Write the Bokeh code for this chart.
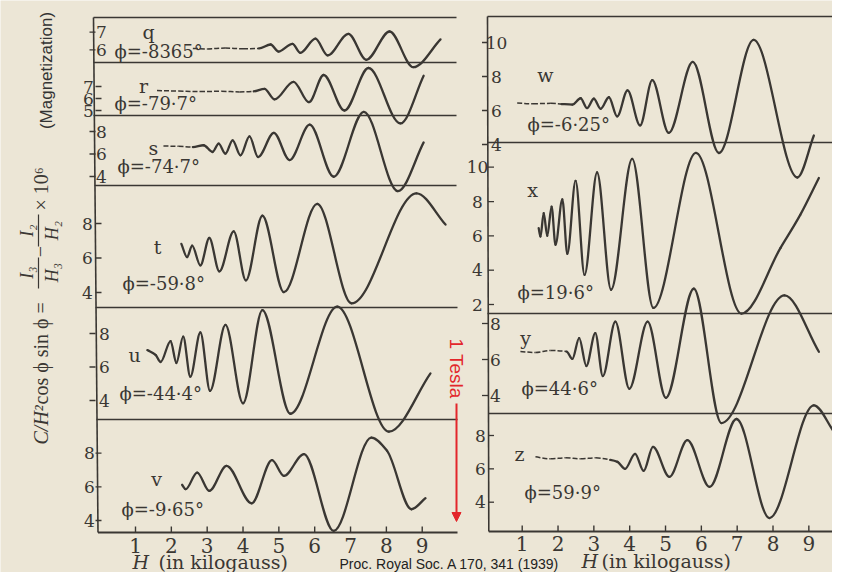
import math
from bokeh.plotting import figure
from bokeh.models import Range1d, Label, Arrow, NormalHead, ColumnDataSource
from bokeh.embed import file_html
from bokeh.resources import INLINE
from bokeh.core.properties import value

# ------------------------------------------------------------------
# DATA (read off the 1939 Proc. Roy. Soc. figure)
# ------------------------------------------------------------------
H_TICKS = [1, 2, 3, 4, 5, 6, 7, 8, 9]
H_TICK_LABELS = ["1", "2", "3", "4", "5", "6", "7", "8", "9"]

Q_H = [2.6, 3.0, 3.5, 4.0, 4.45, 4.77, 4.99, 5.38, 5.60, 6.02, 6.36, 6.94, 7.44, 8.09, 8.75, 9.51]
Q_V = [6.08, 6.05, 6.10, 6.06, 6.08, 6.30, 5.90, 6.34, 5.83, 6.63, 5.68, 6.91, 5.43, 7.04, 5.01, 6.59]

R_H = [1.6, 2.2, 2.8, 3.4, 3.9, 4.3, 4.60, 4.88, 5.41, 5.84, 6.25, 6.83, 7.50, 8.39, 9.04]
R_V = [6.66, 6.62, 6.58, 6.60, 6.55, 6.60, 6.81, 5.93, 7.39, 5.69, 7.96, 5.00, 8.54, 3.92, 7.89]

S_H = [1.78, 2.2, 2.6, 2.90, 3.15, 3.32, 3.51, 3.71, 3.93, 4.18, 4.42, 4.86, 5.30, 5.86, 6.53, 7.37, 8.32, 9.04]
S_V = [6.71, 6.68, 6.62, 6.78, 6.18, 6.92, 6.03, 7.22, 5.88, 7.56, 5.73, 7.88, 5.46, 8.61, 3.98, 9.75, 2.70, 7.03]

T_H = [2.28, 2.44, 2.58, 2.81, 3.06, 3.34, 3.74, 4.08, 4.54, 5.14, 6.07, 7.03, 8.84, 9.65]
T_V = [6.82, 6.05, 6.72, 5.57, 7.16, 5.22, 7.54, 4.70, 8.45, 4.02, 9.14, 3.37, 9.75, 7.94]

U_H = [1.33, 1.56, 1.70, 1.98, 2.14, 2.33, 2.53, 2.81, 3.08, 3.51, 4.00, 4.54, 5.32, 6.63, 8.07, 9.23]
U_V = [7.01, 6.72, 6.30, 7.55, 6.24, 7.81, 5.42, 8.06, 4.57, 8.51, 3.83, 9.40, 3.21, 9.60, 2.14, 5.62]

V_H = [2.30, 2.40, 2.72, 3.06, 3.54, 4.24, 4.81, 5.14, 5.70, 6.53, 7.58, 8.02, 8.70, 9.09]
V_V = [6.12, 5.86, 6.85, 5.76, 7.25, 5.02, 7.59, 6.65, 7.95, 3.38, 8.93, 8.14, 4.67, 5.33]

W_H = [0.86, 1.3, 1.8, 2.1, 2.40, 2.63, 2.81, 3.00, 3.19, 3.42, 3.65, 3.94, 4.29, 4.63, 5.09, 5.76, 6.49, 7.46, 8.68, 9.14]
W_V = [6.44, 6.40, 6.42, 6.38, 6.35, 6.72, 6.14, 6.69, 6.10, 6.78, 5.65, 7.18, 5.12, 7.79, 4.68, 8.86, 3.50, 10.15, 2.06, 4.53]

X_H = [1.46, 1.51, 1.60, 1.70, 1.82, 1.93, 2.12, 2.26, 2.49, 2.74, 3.09, 3.48, 4.07, 4.66, 5.85, 7.12, 8.21, 8.76, 9.28]
X_V = [6.45, 5.96, 7.32, 6.00, 7.70, 5.48, 8.13, 4.95, 9.20, 3.73, 9.69, 2.86, 10.48, 1.80, 10.84, 1.47, 5.30, 7.22, 9.37]

Y_H = [0.95, 1.37, 1.79, 2.24, 2.40, 2.59, 2.79, 3.04, 3.25, 3.60, 3.99, 4.50, 5.01, 5.79, 6.56, 8.32, 9.28]
Y_V = [6.44, 6.39, 6.50, 6.44, 6.03, 7.19, 5.64, 7.47, 5.08, 8.10, 4.37, 8.10, 3.87, 9.93, 2.47, 9.56, 6.43]

Z_H = [1.37, 1.79, 2.21, 2.63, 3.05, 3.46, 3.66, 3.87, 4.15, 4.39, 4.65, 5.11, 5.61, 6.23, 6.98, 7.90, 9.14, 9.70]
Z_V = [6.72, 6.60, 6.66, 6.60, 6.66, 6.54, 6.42, 6.00, 6.90, 5.88, 7.32, 5.52, 7.72, 4.92, 8.99, 3.05, 9.81, 8.22]

Q_TICKS = [6, 7]
R_TICKS = [5, 6, 7]
S_TICKS = [4, 6, 8]
T_TICKS = [4, 6, 8]
U_TICKS = [4, 6, 8]
V_TICKS = [4, 6, 8]
W_TICKS = [4, 6, 8, 10]
X_TICKS = [2, 4, 6, 8, 10]
Y_TICKS = [4, 6, 8]
Z_TICKS = [4, 6, 8]

PANEL_NAMES = ["q", "r", "s", "t", "u", "v", "w", "x", "y", "z"]
PHI_LABELS = ["ϕ=-8365°", "ϕ=-79·7°", "ϕ=-74·7°", "ϕ=-59·8°", "ϕ=-44·4°",
              "ϕ=-9·65°", "ϕ=-6·25°", "ϕ=19·6°", "ϕ=44·6°", "ϕ=59·9°"]

CURVES = {"q": (Q_H, Q_V), "r": (R_H, R_V), "s": (S_H, S_V), "t": (T_H, T_V),
          "u": (U_H, U_V), "v": (V_H, V_V), "w": (W_H, W_V), "x": (X_H, X_V),
          "y": (Y_H, Y_V), "z": (Z_H, Z_V)}
TICKS = {"q": Q_TICKS, "r": R_TICKS, "s": S_TICKS, "t": T_TICKS, "u": U_TICKS,
         "v": V_TICKS, "w": W_TICKS, "x": X_TICKS, "y": Y_TICKS, "z": Z_TICKS}

# ------------------------------------------------------------------
# LAYOUT / STYLE (pixel positions in the picture)
# ------------------------------------------------------------------
BG = "#ece6d6"
INK = "#3a3733"
RED = "#e3262b"
SERIF = "DejaVu Serif"
FSERIF = "Liberation Serif"
SANS = "Liberation Sans"

COLS = {"L": dict(px_h1=135.0, px_per=35.84), "R": dict(px_h1=521.7, px_per=35.83)}

# cal = (value_a, pixel_y_a, value_b, pixel_y_b)
LAYOUT = {
    "q": dict(col="L", cal=(7, 31.7, 6, 49.3), tx=101, side="out", letter=(148, 31), phi=(114, 51), dash=4.45),
    "r": dict(col="L", cal=(7, 86.0, 5, 110.0), tx=88, side="in", letter=(143, 85), phi=(114, 103), dash=4.3),
    "s": dict(col="L", cal=(8, 131.0, 4, 176.0), tx=101, side="out", letter=(153, 147), phi=(117, 166), dash=2.6),
    "t": dict(col="L", cal=(8, 223.0, 4, 292.0), tx=87, side="in", letter=(157, 246), phi=(122, 283), dash=0),
    "u": dict(col="L", cal=(8, 333.0, 4, 400.0), tx=104, side="out", letter=(134, 354), phi=(119, 393), dash=0),
    "v": dict(col="L", cal=(8, 452.7, 4, 520.0), tx=89, side="in", letter=(156, 478), phi=(121, 509), dash=0),
    "w": dict(col="R", cal=(10, 42.0, 4, 144.0), tx=496, side="out", letter=(545, 74), phi=(527, 124), dash=2.1),
    "x": dict(col="R", cal=(10, 166.7, 2, 304.0), tx=477, side="in", letter=(532, 189), phi=(517, 292), dash=0),
    "y": dict(col="R", cal=(8, 323.0, 4, 395.0), tx=495, side="out", letter=(525, 337), phi=(521, 388), dash=2.24),
    "z": dict(col="R", cal=(8, 435.0, 4, 501.7), tx=480, side="in", letter=(519, 453), phi=(524, 492), dash=3.46),
}

PX0, PX1, PY0, PY1 = 0, 832, 0, 572

p = figure(width=PX1 - PX0, height=PY1 - PY0, output_backend="svg",
           toolbar_location=None, x_axis_location=None, y_axis_location=None,
           x_range=Range1d(PX0, PX1), y_range=Range1d(PY1, PY0),
           min_border=0, outline_line_color=None,
           background_fill_color=BG, border_fill_color=BG)
p.xgrid.visible = False
p.ygrid.visible = False


def h_of(col, px):
    c = COLS[col]
    return 1 + (px - c["px_h1"]) / c["px_per"]


for col in COLS:
    p.extra_x_ranges["H" + col] = Range1d(h_of(col, PX0), h_of(col, PX1))


def panel_range(cal):
    va, pa, vb, pb = cal
    slope = (va - vb) / (pa - pb)
    return Range1d(va + slope * (PY1 - pa), va + slope * (PY0 - pa))


for name in PANEL_NAMES:
    p.extra_y_ranges[name] = panel_range(LAYOUT[name]["cal"])


def hermite_segments(hs, vs):
    n = len(hs)
    d = [(vs[i + 1] - vs[i]) / (hs[i + 1] - hs[i]) for i in range(n - 1)]
    m = [0.0] * n
    m[0] = d[0]
    m[-1] = d[-1]
    for i in range(1, n - 1):
        if d[i - 1] * d[i] <= 0:
            m[i] = 0.0
        else:
            m[i] = 2.0 / (1.0 / d[i - 1] + 1.0 / d[i])
    segs = []
    for i in range(n - 1):
        dx = hs[i + 1] - hs[i]
        segs.append(dict(x0=hs[i], y0=vs[i], x1=hs[i + 1], y1=vs[i + 1],
                         cx0=hs[i] + dx / 3, cy0=vs[i] + m[i] * dx / 3,
                         cx1=hs[i + 1] - dx / 3, cy1=vs[i + 1] - m[i + 1] * dx / 3))
    return segs


def to_cds(segs):
    keys = ["x0", "y0", "x1", "y1", "cx0", "cy0", "cx1", "cy1"]
    return ColumnDataSource({k: [s[k] for s in segs] for k in keys})


# ---- frame lines (decoration) ----
LINE_W = 1.4
# left column
p.segment(x0=[93, 93, 93, 94, 95, 96], y0=[17, 62, 115, 185, 307, 419],
          x1=[456, 456, 456, 456, 457, 457], y1=[17, 62, 115, 185, 307, 419],
          line_color=INK, line_width=LINE_W)
p.segment(x0=[93], y0=[17], x1=[97.5], y1=[532], line_color=INK, line_width=1.6)
p.segment(x0=[97.5], y0=[532], x1=[457], y1=[532], line_color=INK, line_width=1.8)
# right column
p.segment(x0=[487, 487, 487, 488], y0=[16, 142, 313, 413],
          x1=[PX1, PX1, PX1, PX1], y1=[16, 142, 313, 413],
          line_color=INK, line_width=LINE_W)
p.segment(x0=[487], y0=[16], x1=[488.3], y1=[531], line_color=INK, line_width=1.6)
p.segment(x0=[488.3], y0=[531], x1=[PX1], y1=[531], line_color=INK, line_width=1.8)

# ---- bottom H axes ----
for col, ybase, ylab in (("L", 532, 545), ("R", 531, 543)):
    n = len(H_TICKS)
    p.segment(x0=H_TICKS, y0=[ybase] * n, x1=H_TICKS, y1=[ybase - 6] * n,
              x_range_name="H" + col, line_color=INK, line_width=1.4)
    p.text(x=H_TICKS, y=[ylab] * n, text=H_TICK_LABELS, x_range_name="H" + col,
           text_align="center", text_baseline="middle", text_color=INK,
           text_font=value(SERIF), text_font_size=value("20px"))

# ---- panels ----
for name, phi in zip(PANEL_NAMES, PHI_LABELS):
    lay = LAYOUT[name]
    col = lay["col"]
    hs, vs = CURVES[name]
    segs = hermite_segments(hs, vs)
    dashed = [s for s in segs if s["x1"] <= lay["dash"]]
    solid = [s for s in segs if s["x1"] > lay["dash"]]
    if dashed:
        p.bezier(x0="x0", y0="y0", x1="x1", y1="y1", cx0="cx0", cy0="cy0", cx1="cx1", cy1="cy1",
                 source=to_cds(dashed), x_range_name="H" + col, y_range_name=name,
                 line_color=INK, line_width=1.5, line_dash="5 2")
    p.bezier(x0="x0", y0="y0", x1="x1", y1="y1", cx0="cx0", cy0="cy0", cx1="cx1", cy1="cy1",
             source=to_cds(solid), x_range_name="H" + col, y_range_name=name,
             line_color=INK, line_width=2.3, line_cap="round")

    ticks = TICKS[name]
    ax = 95 if col == "L" else 487.5
    if lay["side"] == "out":
        tx0, tx1 = ax - 6, ax
    else:
        tx0, tx1 = ax, ax + 6
    p.segment(x0=[tx0] * len(ticks), y0=ticks, x1=[tx1] * len(ticks), y1=ticks,
              y_range_name=name, line_color=INK, line_width=1.3)
    p.text(x=[lay["tx"]] * len(ticks), y=ticks, text=[str(t) for t in ticks],
           y_range_name=name, text_align="center", text_baseline="middle",
           text_color=INK, text_font=value(SERIF), text_font_size=value("17px"))

    lx, ly = lay["letter"]
    p.add_layout(Label(x=lx, y=ly, text=name, text_align="center", text_baseline="middle",
                       text_font=SERIF, text_font_size="19px", text_color=INK))
    fx, fy = lay["phi"]
    p.add_layout(Label(x=fx, y=fy, text=phi, text_align="left", text_baseline="middle",
                       text_font=SERIF, text_font_size="18px", text_color=INK))

# ---- axis titles ----
for hx, tx, y in ((132, 158, 561), (581, 601, 560)):
    p.add_layout(Label(x=hx, y=y, text="H", text_align="left", text_baseline="middle",
                       text_font=SERIF, text_font_style="italic", text_font_size="19px", text_color=INK))
    p.add_layout(Label(x=tx, y=y, text="(in kilogauss)", text_align="left", text_baseline="middle",
                       text_font=SERIF, text_font_size="19px", text_color=INK))

p.add_layout(Label(x=339, y=563, text="Proc. Royal Soc. A 170, 341 (1939)", text_align="left",
                   text_baseline="middle", text_font=SANS, text_font_size="14px", text_color="#222222"))

# rotated y title
UP = math.pi / 2
p.add_layout(Label(x=46, y=70, text="(Magnetization)", angle=UP, text_align="center",
                   text_baseline="middle", text_font=SANS, text_font_size="17px", text_color="#333333"))
FORMULA = [("C/H²", 40, 444, "italic", 20, "left"),
           (" cos ϕ sin ϕ =", 40, 404, "normal", 20, "left"),
           ("I₃", 26, 272, "italic", 18, "center"), ("H₃", 51, 272, "italic", 18, "center"),
           ("−", 39, 251, "normal", 20, "center"),
           ("I₂", 26, 230, "italic", 18, "center"), ("H₂", 51, 230, "italic", 18, "center"),
           ("× 10⁶", 40, 210, "normal", 20, "left")]
for txt, x, y, style, size, align in FORMULA:
    p.add_layout(Label(x=x, y=y, text=txt, angle=UP, text_align=align, text_baseline="middle",
                       text_font=FSERIF, text_font_style=style, text_font_size=f"{size}px",
                       text_color=INK))
p.segment(x0=[38, 38], y0=[288, 246], x1=[38, 38], y1=[257, 214], line_color=INK, line_width=1.2)

# red "1 Tesla" arrow
p.add_layout(Label(x=456, y=368, text="1 Tesla", angle=-UP, text_align="center", text_baseline="middle",
                   text_font=SANS, text_font_size="19px", text_color=RED))
p.add_layout(Arrow(end=NormalHead(size=9, fill_color=RED, line_color=RED),
                   x_start=456, y_start=403, x_end=456, y_end=521,
                   line_color=RED, line_width=2))

open("out.html", "w").write(file_html(p, INLINE))
